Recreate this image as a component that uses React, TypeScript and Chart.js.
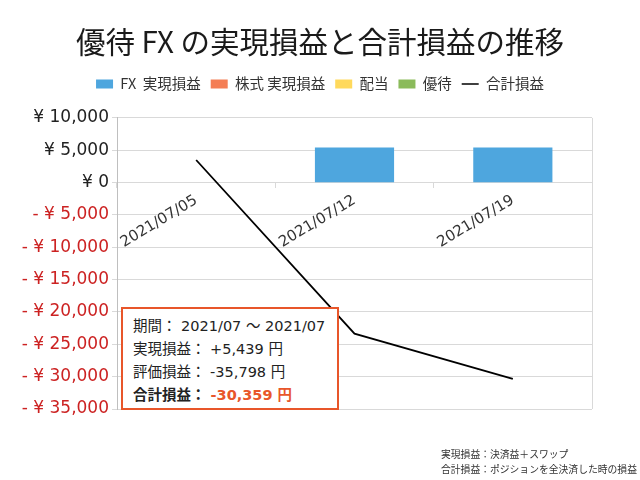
import React, { useEffect, useRef } from "react";
import { Chart, registerables } from "chart.js";

Chart.register(...registerables);

const categories = ["2021/07/05", "2021/07/12", "2021/07/19"];
const fxRealized = [null, 5439, 5439];
const stockRealized = [null, null, null];
const dividends = [null, null, null];
const benefits = [null, null, null];
const totalPL = [3500, -23350, -30359];

const yMin = -35000;
const yMax = 10000;
const yStep = 5000;

const chartTitle = "優待 FX の実現損益と合計損益の推移";
const seriesNames = ["FX  実現損益", "株式 実現損益", "配当", "優待", "合計損益"];
const seriesColors = ["#4ea6de", "#f47e55", "#ffd95c", "#8bbb5b", "#000000"];

const summaryLines = [
  { label: "期間：", value: "2021/07 ～ 2021/07" },
  { label: "実現損益：", value: "+5,439 円" },
  { label: "評価損益：", value: "-35,798 円" },
];
const summaryTotal = { label: "合計損益：", value: "-30,359 円" };
const footnotes = ["実現損益：決済益＋スワップ", "合計損益：ポジションを全決済した時の損益"];

const RED = "#cc2222";
const CJK = "'Noto Sans CJK JP', sans-serif";
const NUM = "'DejaVu Sans', 'Noto Sans CJK JP', sans-serif";

function formatYen(v: number): string {
  const abs = Math.abs(v).toLocaleString("en-US");
  if (v < 0) return "- ¥ " + abs;
  return "¥ " + abs;
}

export default function App() {
  const canvasRef = useRef<HTMLCanvasElement | null>(null);

  useEffect(() => {
    if (!canvasRef.current) return;
    const chart = new Chart(canvasRef.current, {
      type: "bar",
      data: {
        labels: categories,
        datasets: [
          { type: "bar", label: seriesNames[0], data: fxRealized, backgroundColor: seriesColors[0], order: 1, stack: "s" },
          { type: "bar", label: seriesNames[1], data: stockRealized, backgroundColor: seriesColors[1], order: 1, stack: "s" },
          { type: "bar", label: seriesNames[2], data: dividends, backgroundColor: seriesColors[2], order: 1, stack: "s" },
          { type: "bar", label: seriesNames[3], data: benefits, backgroundColor: seriesColors[3], order: 1, stack: "s" },
          {
            type: "line",
            label: seriesNames[4],
            data: totalPL,
            borderColor: seriesColors[4],
            borderWidth: 1.8,
            pointRadius: 0,
            tension: 0,
            order: 0,
            stack: "line",
          } as any,
        ],
      },
      options: {
        animation: false,
        responsive: false,
        maintainAspectRatio: false,
        datasets: { bar: { barPercentage: 1, categoryPercentage: 0.5 } },
        layout: { padding: { left: 0, right: 0, top: 0, bottom: 71 } },
        plugins: {
          tooltip: { enabled: false },
          title: {
            display: true,
            text: chartTitle,
            color: "#1a1a1a",
            font: { family: CJK, size: 29.5, weight: "normal", lineHeight: 1.2 },
            padding: { top: 24.3, bottom: 7 },
          },
          subtitle: {
            display: true,
            text: "",
            weight: 500,
            font: { size: 1, lineHeight: 1 },
            padding: { top: 0, bottom: 15.75 },
          } as any,
          legend: {
            display: true,
            position: "top",
            align: "center",
            labels: {
              usePointStyle: true,
              pointStyleWidth: 17,
              boxHeight: 9,
              padding: 10,
              color: "#333",
              font: { family: CJK, size: 14.5 },
              generateLabels: (c: any) =>
                c.data.datasets.map((ds: any, i: number) => {
                  const isLine = ds.type === "line";
                  return {
                    text: ds.label,
                    fillStyle: isLine ? "rgba(0,0,0,0)" : ds.backgroundColor,
                    strokeStyle: isLine ? ds.borderColor : ds.backgroundColor,
                    lineWidth: isLine ? 1.5 : 0,
                    pointStyle: isLine ? "line" : "rect",
                    hidden: false,
                    datasetIndex: i,
                    fontColor: "#333",
                  };
                }),
            },
          },
        },
        scales: {
          x: {
            stacked: true,
            position: { y: 0 } as any,
            grid: {
              display: true,
              drawOnChartArea: true,
              offset: true,
              color: (ctx: any) => (ctx.type === "tick" ? "rgba(0,0,0,0)" : "#d9d9d9"),
              tickColor: "#d9d9d9",
              tickLength: 5,
            },
            border: { display: true, color: "#d9d9d9" },
            ticks: {
              autoSkip: false,
              minRotation: 31,
              maxRotation: 31,
              padding: 4,
              color: "#333",
              font: { family: NUM, size: 15 },
            },
          },
          y: {
            min: yMin,
            max: yMax,
            afterFit: (s: any) => {
              s.width = 117;
            },
            grid: { color: "#d9d9d9", tickLength: 5 },
            border: { color: "#bfbfbf" },
            ticks: {
              stepSize: yStep,
              padding: 3,
              font: { family: NUM, size: 17 },
              color: (ctx: any) => (ctx.tick && ctx.tick.value < 0 ? RED : "#222"),
              callback: (v: any) => formatYen(Number(v)),
            },
          },
          yRightSpace: {
            position: "right",
            display: true,
            grid: { display: false },
            border: { display: false },
            ticks: { display: false },
            afterFit: (s: any) => {
              s.width = 48;
            },
          },
        },
      },
    });
    return () => chart.destroy();
  }, []);

  return (
    <div style={{ position: "fixed", left: 0, top: 0, width: 640, height: 480, background: "#fff" }}>
      <canvas ref={canvasRef} width={640} height={480} style={{ position: "absolute", left: 0, top: 0, width: 640, height: 480 }} />
      <div
        style={{
          position: "absolute",
          left: 121,
          top: 307,
          width: 218,
          height: 103,
          boxSizing: "border-box",
          border: "2px solid #e8562a",
          background: "#fff",
          padding: "5px 0 0 10px",
          fontFamily: NUM,
          fontSize: 14.5,
          lineHeight: "21px",
          color: "#222",
          whiteSpace: "nowrap",
        }}
      >
        {summaryLines.map((l, i) => (
          <div key={i}>
            <span style={{ fontFamily: CJK }}>{l.label}</span> {l.value}
          </div>
        ))}
        <div style={{ fontWeight: "bold" }}>
          <span style={{ fontFamily: CJK }}>{summaryTotal.label}</span>{" "}
          <span style={{ color: "#e8562a" }}>{summaryTotal.value}</span>
        </div>
      </div>
      <div
        style={{
          position: "absolute",
          left: 441,
          top: 447,
          fontFamily: CJK,
          fontSize: 9.8,
          lineHeight: "15px",
          color: "#333",
          whiteSpace: "nowrap",
        }}
      >
        {footnotes.map((f, i) => (
          <div key={i}>{f}</div>
        ))}
      </div>
    </div>
  );
}
